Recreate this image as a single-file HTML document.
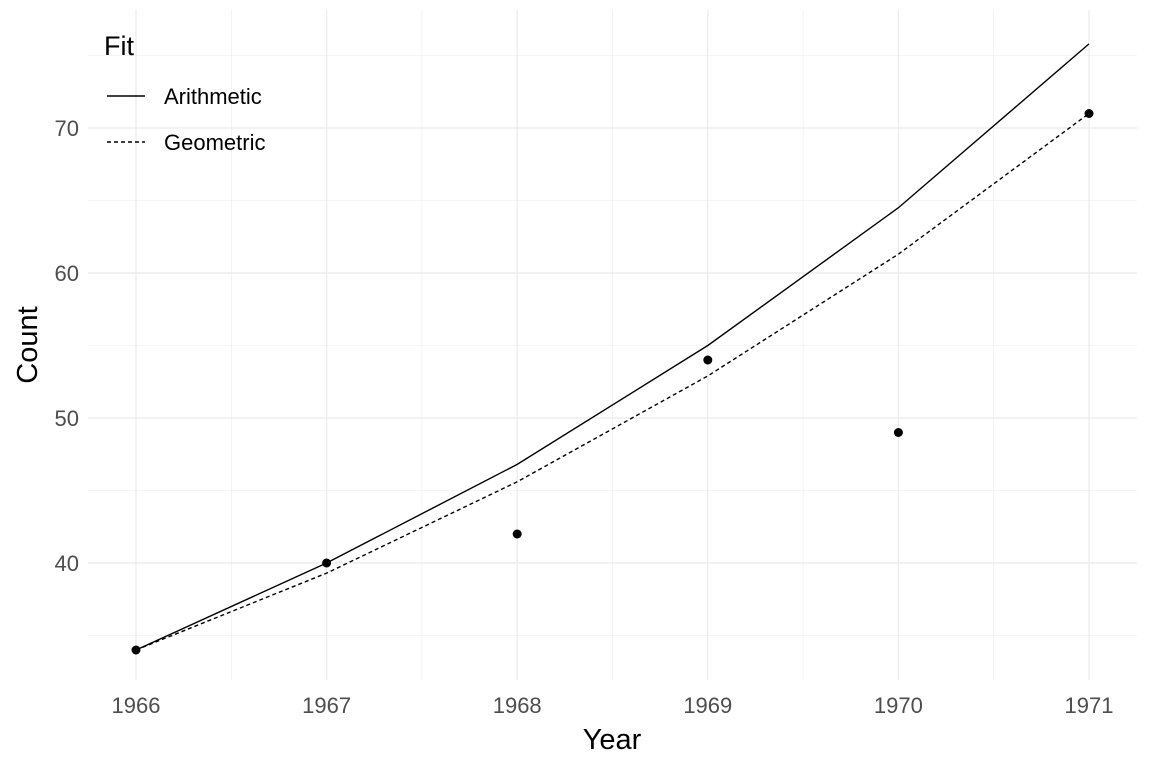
<!DOCTYPE html>
<html><head><meta charset="utf-8"><style>
body{margin:0;background:#fff;}
svg{display:block;font-family:"Liberation Sans",Arial,sans-serif;}
</style></head><body>
<svg id="chart" width="1152" height="768"></svg>
<script>
const years=[1966,1967,1968,1969,1970,1971];
const observed=[34,40,42,54,49,71];
const arithmetic=[34,40,46.8,55,64.5,75.8];
const geometric=[34,39.3,45.6,52.9,61.3,71];
const yTicks=[40,50,60,70];
const yMinor=[35,45,55,65,75];
const xMinor=[1966.5,1967.5,1968.5,1969.5,1970.5];

const svg=document.getElementById('chart');
const NS='http://www.w3.org/2000/svg';
const X=v=>136+(v-1966)*190.6;
const Y=v=>563-(v-40)*14.5;
const L=88,R=1137,T=10,B=680;
function mk(tag,attrs,parent){const e=document.createElementNS(NS,tag);for(const k in attrs)e.setAttribute(k,attrs[k]);(parent||svg).appendChild(e);return e;}

const grid=mk('g',{});


yMinor.forEach(v=>mk('line',{x1:L,x2:R,y1:Y(v),y2:Y(v),stroke:'#ebebeb','stroke-width':0.6},grid));
xMinor.forEach(v=>mk('line',{x1:X(v),x2:X(v),y1:T,y2:B,stroke:'#ebebeb','stroke-width':0.6},grid));
yTicks.forEach(v=>mk('line',{x1:L,x2:R,y1:Y(v),y2:Y(v),stroke:'#ebebeb','stroke-width':1.2},grid));
years.forEach(v=>mk('line',{x1:X(v),x2:X(v),y1:T,y2:B,stroke:'#ebebeb','stroke-width':1.2},grid));

yTicks.forEach(v=>{const t=mk('text',{x:79,y:Y(v)+8,'text-anchor':'end','font-size':22,fill:'#4d4d4d'});t.textContent=v;

});
years.forEach(v=>{const t=mk('text',{x:X(v),y:713,'text-anchor':'middle','font-size':22,fill:'#4d4d4d'});t.textContent=v;

});

const xt=mk('text',{x:612,y:749,'text-anchor':'middle','font-size':29,fill:'#000'});xt.textContent='Year';


const yt=mk('text',{x:37,y:345,'text-anchor':'middle','font-size':29,fill:'#000',transform:'rotate(-90 37 345)'});yt.textContent='Count';



const pa=mk('polyline',{points:years.map((y,i)=>X(y)+','+Y(arithmetic[i])).join(' '),fill:'none',stroke:'#000','stroke-width':1.4});


const pg=mk('polyline',{points:years.map((y,i)=>X(y)+','+Y(geometric[i])).join(' '),fill:'none',stroke:'#000','stroke-width':1.4,'stroke-dasharray':'4,3'});


years.forEach((y,i)=>{const c=mk('circle',{cx:X(y),cy:Y(observed[i]),r:4.5,fill:'#000'});

});

const lg=mk('g',{});


const lt=mk('text',{x:104,y:55,'font-size':27,fill:'#000'},lg);lt.textContent='Fit';
mk('line',{x1:107,x2:145,y1:96,y2:96,stroke:'#000','stroke-width':1.4},lg);
mk('line',{x1:107,x2:145,y1:142,y2:142,stroke:'#000','stroke-width':1.4,'stroke-dasharray':'4,3'},lg);
const l1=mk('text',{x:164,y:104,'font-size':22,fill:'#000'},lg);l1.textContent='Arithmetic';
const l2=mk('text',{x:164,y:150,'font-size':22,fill:'#000'},lg);l2.textContent='Geometric';
</script>
</body></html>
